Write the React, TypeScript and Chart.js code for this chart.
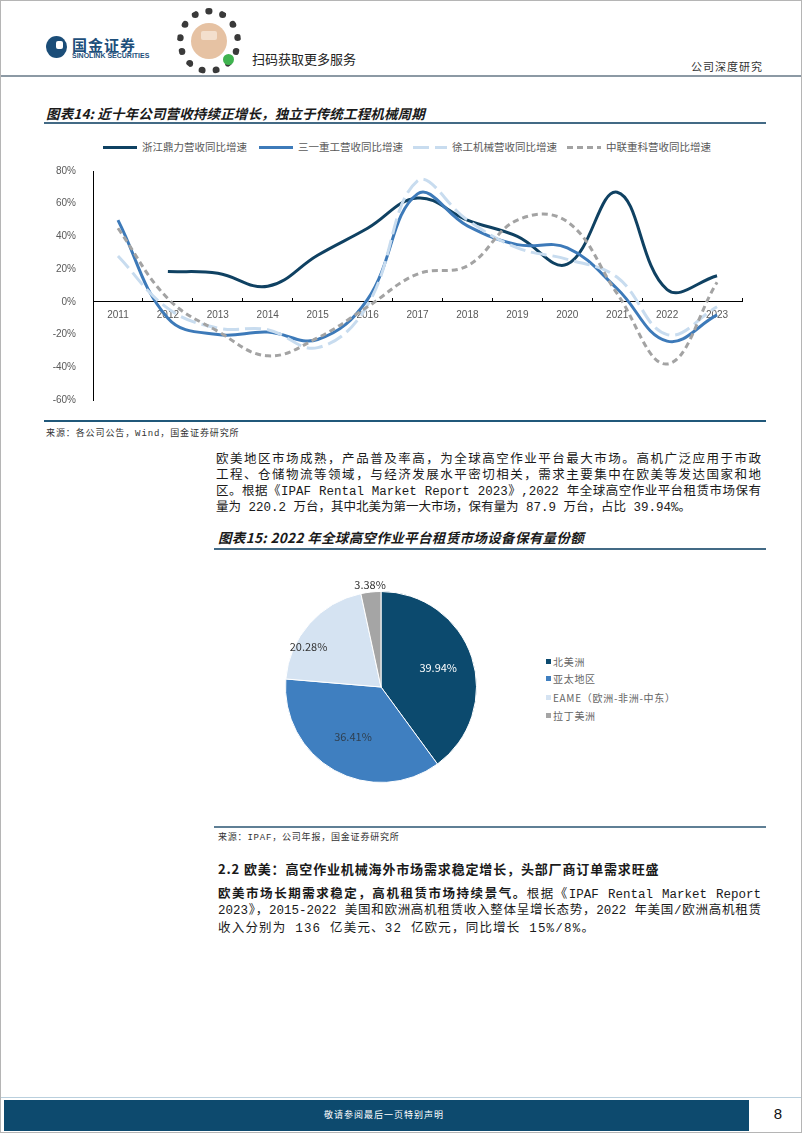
import React, { useEffect, useRef } from "react";
import { Chart, registerables } from "chart.js";

Chart.register(...registerables);

// ---------- Data: line chart ----------
const years = ["2011", "2012", "2013", "2014", "2015", "2016", "2017", "2018", "2019", "2020", "2021", "2022", "2023"];
const dingliGrowth = [null, 18.5, 17.5, 9.5, 28.5, 45, 63.5, 50, 40, 23, 67, 7.5, 16];
const sanyGrowth = [50, -10, -20, -18.5, -23, 1.5, 66, 46.5, 35, 33, 8, -24, -8];
const xcmgGrowth = [28, -4, -16, -17, -28, -2, 74, 50, 33, 26, 15, -20, -3];
const zoomlionGrowth = [45, 2, -18, -33, -22, -3, 17, 22, 50, 49, 5, -38, 12];
const seriesNames = ["浙江鼎力营收同比增速", "三一重工营收同比增速", "徐工机械营收同比增速", "中联重科营收同比增速"];
const yTicks = [-60, -40, -20, 0, 20, 40, 60, 80];

// ---------- Data: pie chart ----------
const regions = ["北美洲", "亚太地区", "EAME（欧洲-非洲-中东）", "拉丁美洲"];
const shares = [39.94, 36.41, 20.28, 3.38];

// ---------- Styles ----------
const lineColors = ["#0f4162", "#3d7ab9", "#c8dcef", "#a3a3a3"];
const lineDashes: number[][] = [[], [], [16, 6], [6, 4]];
const pieColors = ["#0c4a6e", "#3f7fc0", "#d5e3f2", "#a5a5a5"];
const pieLabelColors = ["#ffffff", "#2f3f4f", "#333333", "#333333"];
const pieLabelRadius = [0.63, 0.6, 0.87, 1.08];
const pieLabelAngleShift = [0, 0, -0.21, 0];

const CJK = '"Noto Sans CJK SC", "Noto Sans", sans-serif';
const TEXT = '"Liberation Mono", "Noto Sans CJK SC", monospace';
const AXIS_FONT = '"Liberation Sans", Arial, sans-serif';

const Abs = (p: { x: number; y: number; size: number; children?: any; style?: any; w?: number }) => (
  <div
    style={{
      position: "absolute",
      left: p.x,
      top: p.y - p.size * 0.75,
      width: p.w,
      fontSize: p.size,
      lineHeight: `${p.size * 1.5}px`,
      whiteSpace: "nowrap",
      ...p.style,
    }}
  >
    {p.children}
  </div>
);

const Rule = (p: { x: number; y: number; w: number; h?: number; c: string }) => (
  <div style={{ position: "absolute", left: p.x, top: p.y, width: p.w, height: p.h ?? 2, background: p.c }} />
);

const Justified = (p: { x: number; y: number; w: number; size: number; last?: boolean; children?: any }) => (
  <div
    style={{
      position: "absolute",
      left: p.x,
      top: p.y - p.size * 0.75,
      width: p.w,
      fontSize: p.size,
      lineHeight: `${p.size * 1.5}px`,
      whiteSpace: "nowrap",
      textAlign: p.last ? "left" : "justify",
      textAlignLast: p.last ? "left" : "justify",
      fontFamily: TEXT,
      color: "#1a1a1a",
    } as any}
  >
    {p.children}
  </div>
);

export default function App() {
  const lineRef = useRef<HTMLCanvasElement>(null);
  const pieRef = useRef<HTMLCanvasElement>(null);

  useEffect(() => {
    const seriesData = [dingliGrowth, sanyGrowth, xcmgGrowth, zoomlionGrowth];
    const lineChart = new Chart(lineRef.current!, {
      type: "line",
      data: {
        labels: years,
        datasets: seriesData.map((d, i) => ({
          label: seriesNames[i],
          data: d as any,
          borderColor: lineColors[i],
          backgroundColor: lineColors[i],
          borderDash: lineDashes[i],
          borderWidth: 3,
          tension: 0.4,
          pointRadius: 0,
          fill: false,
          spanGaps: false,
          order: 3 - i,
        })),
      },
      options: {
        responsive: false,
        animation: false,
        layout: { padding: { left: 0, right: 29, top: 40, bottom: 21 } },
        plugins: { legend: { display: false }, tooltip: { enabled: false } },
        scales: {
          x: {
            type: "category",
            position: { y: 0 } as any,
            offset: true,
            grid: { display: true, offset: true, drawOnChartArea: false, tickLength: -4, color: "#000", lineWidth: 1 },
            border: { display: true, color: "#000", width: 1 },
            ticks: {
              color: "#595959",
              font: { family: AXIS_FONT, size: 10 },
              padding: 11,
              maxRotation: 0,
              autoSkip: false,
            },
          },
          y: {
            min: yTicks[0],
            max: yTicks[yTicks.length - 1],
            afterBuildTicks: (s: any) => {
              s.ticks = yTicks.map((v) => ({ value: v }));
            },
            afterFit: (s: any) => {
              s.width = 52;
            },
            grid: { display: false },
            border: { display: true, color: "#000", width: 1 },
            ticks: {
              color: "#595959",
              font: { family: AXIS_FONT, size: 10 },
              padding: 9,
              callback: (v: any) => `${v}%`,
            },
          },
        },
      },
    });

    const pieLabels = {
      id: "pieLabels",
      afterDatasetsDraw(chart: any) {
        const ctx = chart.ctx;
        const meta = chart.getDatasetMeta(0);
        ctx.save();
        ctx.font = `11px ${CJK}`;
        ctx.textAlign = "center";
        ctx.textBaseline = "middle";
        meta.data.forEach((arc: any, i: number) => {
          const { x, y, startAngle, endAngle, outerRadius } = arc.getProps(
            ["x", "y", "startAngle", "endAngle", "outerRadius"],
            true
          );
          const mid = (startAngle + endAngle) / 2 + pieLabelAngleShift[i];
          const r = outerRadius * pieLabelRadius[i];
          ctx.fillStyle = pieLabelColors[i];
          ctx.fillText(`${shares[i].toFixed(2)}%`, x + Math.cos(mid) * r, y + Math.sin(mid) * r);
        });
        ctx.restore();
      },
    };

    const pieChart = new Chart(pieRef.current!, {
      type: "pie",
      data: {
        labels: regions,
        datasets: [{ data: shares, backgroundColor: pieColors, borderColor: "#ffffff", borderWidth: 1 }],
      },
      options: {
        responsive: false,
        animation: false,
        layout: { padding: { top: 20, left: 14, right: 14, bottom: 18 } },
        plugins: { legend: { display: false }, tooltip: { enabled: false } },
      },
      plugins: [pieLabels],
    });

    return () => {
      lineChart.destroy();
      pieChart.destroy();
    };
  }, []);

  const legendX = [102, 258, 412, 566];
  const pieLegendY = [660, 677, 696, 714];

  return (
    <div
      style={{
        position: "absolute",
        left: 0,
        top: 0,
        width: 802,
        height: 1133,
        background: "#fff",
        fontFamily: CJK,
        color: "#222",
        overflow: "hidden",
        boxSizing: "border-box",
        border: "1px solid #b5b5b5",
      }}
    >
      {/* Header */}
      <div style={{ position: "absolute", left: 45, top: 35, width: 21, height: 22, borderRadius: "50%", background: "#1b4d78" }} />
      <div style={{ position: "absolute", left: 55, top: 40, width: 7, height: 8, borderRadius: 2, background: "#fff" }} />
      <Abs x={71} y={44} size={15} style={{ fontWeight: 700, color: "#1d4f7b", letterSpacing: 1 }}>国金证券</Abs>
      <Abs x={71} y={55} size={7} style={{ fontWeight: 700, color: "#1d4f7b", fontFamily: AXIS_FONT }}>SINOLINK SECURITIES</Abs>
      <div
        style={{
          position: "absolute",
          left: 176,
          top: 7,
          width: 50,
          height: 52,
          borderRadius: "50%",
          border: "7px dotted #3a3a3a",
        }}
      />
      <div style={{ position: "absolute", left: 190, top: 22, width: 36, height: 36, borderRadius: "50%", background: "#e6c2a3" }} />
      <div style={{ position: "absolute", left: 200, top: 30, width: 16, height: 9, borderRadius: 2, background: "#f3dfcd" }} />
      <div style={{ position: "absolute", left: 222, top: 53, width: 11, height: 11, borderRadius: "50%", background: "#3fb34f" }} />
      <Abs x={251} y={58} size={13} style={{ color: "#222" }}>扫码获取更多服务</Abs>
      <Abs x={690} y={65} size={11} style={{ color: "#333", letterSpacing: 1 }}>公司深度研究</Abs>
      <Rule x={0} y={74} w={802} h={2} c="#8c99a4" />

      {/* Figure 14 */}
      <Abs x={45} y={112} size={13.5} style={{ fontWeight: 700, fontStyle: "italic", color: "#1a1a1a", letterSpacing: 0.15 }}>
        图表14: 近十年公司营收持续正增长，独立于传统工程机械周期
      </Abs>
      <Rule x={43} y={121} w={722} h={2} c="#436a85" />

      {legendX.map((lx, i) => (
        <React.Fragment key={i}>
          <svg style={{ position: "absolute", left: lx, top: 144 }} width={34} height={5}>
            <line
              x1={0}
              y1={2.5}
              x2={34}
              y2={2.5}
              stroke={lineColors[i]}
              strokeWidth={3}
              strokeDasharray={lineDashes[i].length ? lineDashes[i].join(" ") : undefined}
            />
          </svg>
          <Abs x={lx + 39} y={146} size={10.5} style={{ color: "#595959" }}>{seriesNames[i]}</Abs>
        </React.Fragment>
      ))}

      <canvas ref={lineRef} width={730} height={290} style={{ position: "absolute", left: 40, top: 130, width: 730, height: 290 }} />

      <Rule x={43} y={419} w={722} h={2} c="#20587a" />
      <Abs x={45} y={434} size={9} style={{ color: "#333", letterSpacing: 0.9, fontFamily: TEXT }}>来源：各公司公告，Wind，国金证券研究所</Abs>

      {/* Paragraph 1 */}
      <Justified x={215} y={459} w={545} size={12.5}>欧美地区市场成熟，产品普及率高，为全球高空作业平台最大市场。高机广泛应用于市政</Justified>
      <Justified x={215} y={475} w={545} size={12.5}>工程、仓储物流等领域，与经济发展水平密切相关，需求主要集中在欧美等发达国家和地</Justified>
      <Justified x={215} y={491} w={545} size={12.5}>区。根据《IPAF Rental Market Report 2023》,2022 年全球高空作业平台租赁市场保有</Justified>
      <Justified x={215} y={507} w={545} size={12.5} last>
        量为 220.2 万台，其中北美为第一大市场，保有量为 87.9 万台，占比 39.94%。
      </Justified>

      {/* Figure 15 */}
      <Abs x={217} y={536} size={13.5} style={{ fontWeight: 700, fontStyle: "italic", color: "#1a1a1a", letterSpacing: 0.35 }}>
        图表15: 2022 年全球高空作业平台租赁市场设备保有量份额
      </Abs>
      <Rule x={213} y={547} w={552} h={2} c="#436a85" />

      <canvas ref={pieRef} width={220} height={230} style={{ position: "absolute", left: 270, top: 570, width: 220, height: 230 }} />

      {regions.map((r, i) => (
        <React.Fragment key={r}>
          <div style={{ position: "absolute", left: 545, top: pieLegendY[i] - 2.5, width: 5, height: 5, background: pieColors[i] }} />
          <Abs x={552} y={pieLegendY[i]} size={10} style={{ color: "#666", letterSpacing: 0.7 }}>{r}</Abs>
        </React.Fragment>
      ))}

      <Rule x={213} y={825} w={552} h={2} c="#5f7f95" />
      <Abs x={217} y={838} size={9} style={{ color: "#333", letterSpacing: 0.8, fontFamily: TEXT }}>来源：IPAF，公司年报，国金证券研究所</Abs>

      {/* Section 2.2 */}
      <Abs x={217} y={868} size={13} style={{ fontWeight: 700, color: "#1a1a1a", letterSpacing: 0.85 }}>
        2.2 欧美：高空作业机械海外市场需求稳定增长，头部厂商订单需求旺盛
      </Abs>
      <Justified x={217} y={892} w={543} size={12.5}>
        <b style={{ fontFamily: CJK }}>欧美市场长期需求稳定，高机租赁市场持续景气。</b>根据《IPAF Rental Market Report
      </Justified>
      <Justified x={217} y={910} w={543} size={12.5}>2023》，2015-2022 美国和欧洲高机租赁收入整体呈增长态势，2022 年美国/欧洲高机租赁</Justified>
      <Justified x={217} y={928} w={543} size={12.5} last>
        <span style={{ letterSpacing: 1.2 }}>收入分别为 136 亿美元、32 亿欧元，同比增长 15%/8%。</span>
      </Justified>

      {/* Footer */}
      <Rule x={0} y={1096} w={802} h={1} c="#b9cfdd" />
      <div style={{ position: "absolute", left: 3, top: 1099, width: 745, height: 31, background: "#0d4a6e" }} />
      <Abs x={0} y={1114} size={9} w={766} style={{ color: "#fff", textAlign: "center", letterSpacing: 1 }}>敬请参阅最后一页特别声明</Abs>
      <Abs x={752} y={1113} size={15} w={50} style={{ color: "#111", textAlign: "center", fontFamily: AXIS_FONT }}>8</Abs>
    </div>
  );
}
